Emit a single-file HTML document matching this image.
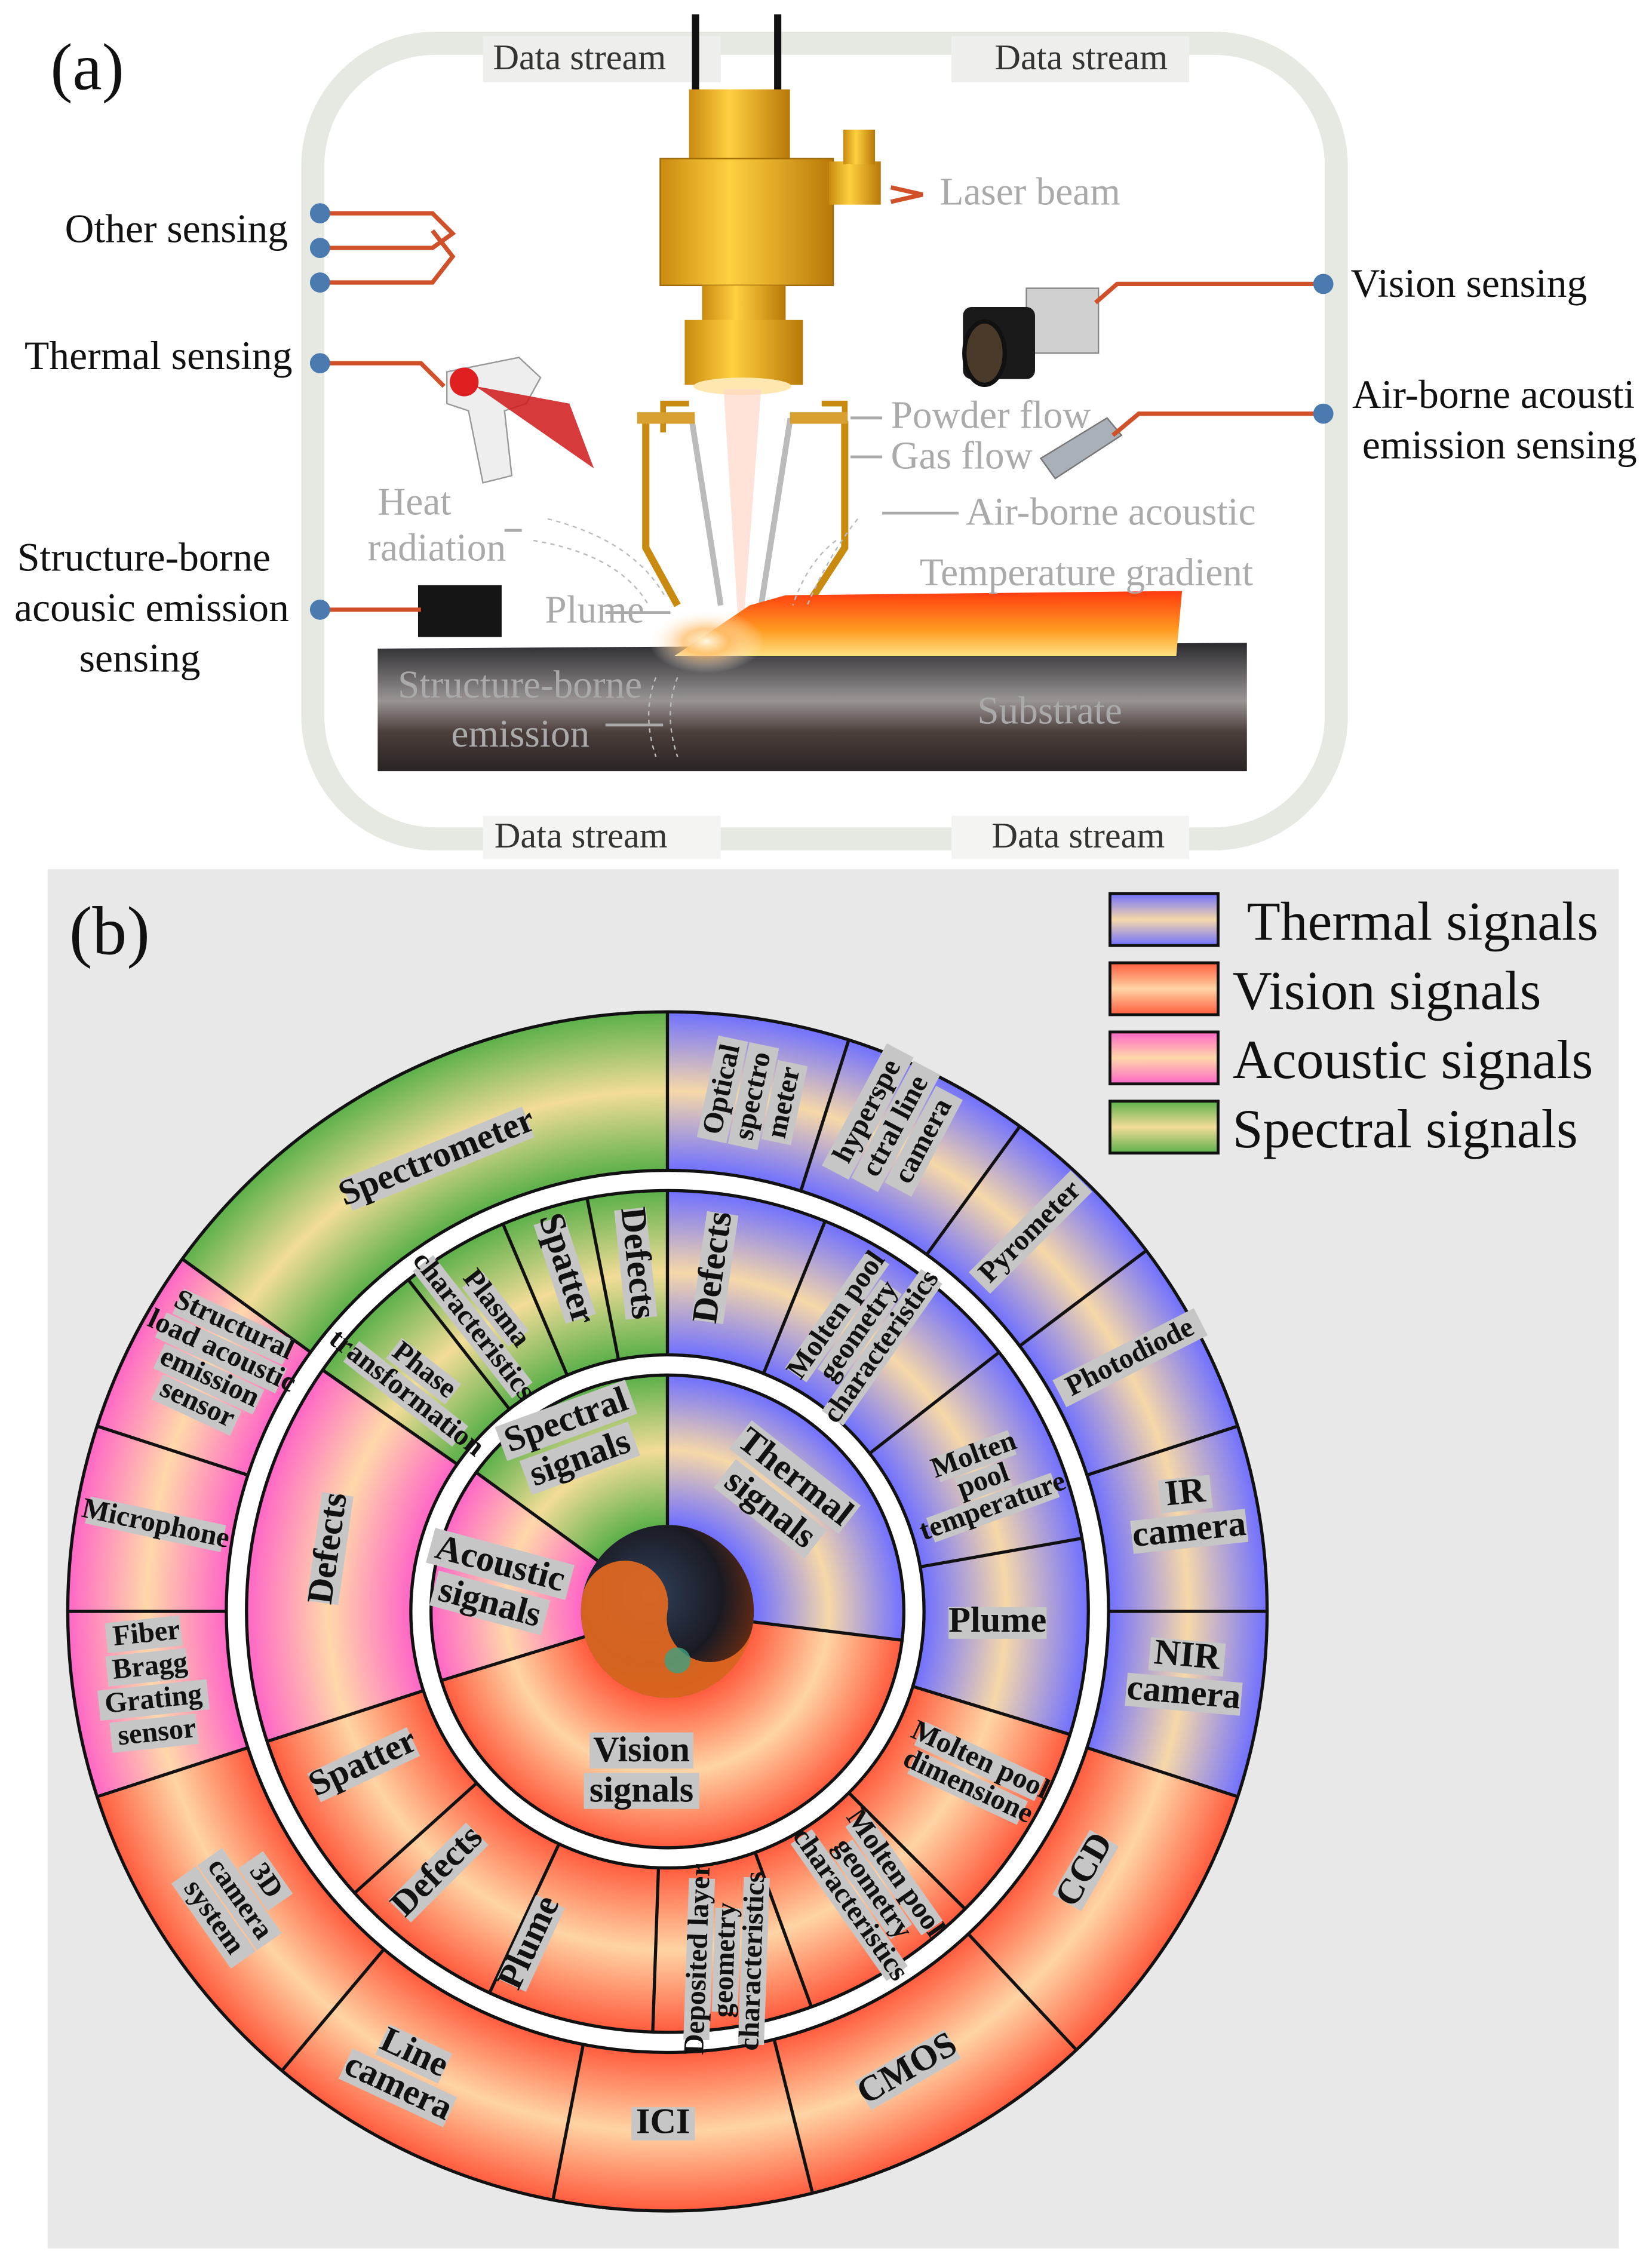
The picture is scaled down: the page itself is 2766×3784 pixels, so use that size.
<!DOCTYPE html>
<html><head><meta charset="utf-8"><style>
html,body{margin:0;padding:0;background:#fff}
svg{display:block}
.a{font-family:"Liberation Serif",serif;font-size:28px;fill:#111}
.g{font-family:"Liberation Serif",serif;font-size:27px;fill:#aaa}
.d{font-family:"Liberation Serif",serif;font-size:25px;fill:#333}
.l{font-family:"Liberation Serif",serif;font-weight:bold;font-size:20px;fill:#111;text-anchor:middle}
.m{font-family:"Liberation Serif",serif;font-weight:bold;font-size:25px;fill:#111;text-anchor:middle}
.lg{font-family:"Liberation Serif",serif;font-size:38px;fill:#111}
.b rect{fill:#c6c6c6}
</style></head><body>
<svg width="2766" height="3784" viewBox="0 0 1146 1568" preserveAspectRatio="none" xmlns="http://www.w3.org/2000/svg">
<defs>
<radialGradient id="gt" gradientUnits="userSpaceOnUse" cx="463" cy="1118" r="416">
<stop offset="0.144" stop-color="#7070ff"/><stop offset="0.269" stop-color="#f6d8a8"/><stop offset="0.394" stop-color="#7070ff"/>
<stop offset="0.428" stop-color="#7070ff"/><stop offset="0.565" stop-color="#f6d8a8"/><stop offset="0.702" stop-color="#7070ff"/>
<stop offset="0.7356" stop-color="#7070ff"/><stop offset="0.868" stop-color="#f6d8a8"/><stop offset="1" stop-color="#7070ff"/></radialGradient>
<radialGradient id="gv" gradientUnits="userSpaceOnUse" cx="463" cy="1118" r="416">
<stop offset="0.144" stop-color="#ff5c3e"/><stop offset="0.269" stop-color="#ffd4a4"/><stop offset="0.394" stop-color="#ff5c3e"/>
<stop offset="0.428" stop-color="#ff5c3e"/><stop offset="0.565" stop-color="#ffd4a4"/><stop offset="0.702" stop-color="#ff5c3e"/>
<stop offset="0.7356" stop-color="#ff5c3e"/><stop offset="0.868" stop-color="#ffd4a4"/><stop offset="1" stop-color="#ff5c3e"/></radialGradient>
<radialGradient id="ga" gradientUnits="userSpaceOnUse" cx="463" cy="1118" r="416">
<stop offset="0.144" stop-color="#ff66c6"/><stop offset="0.269" stop-color="#ffd8aa"/><stop offset="0.394" stop-color="#ff66c6"/>
<stop offset="0.428" stop-color="#ff66c6"/><stop offset="0.565" stop-color="#ffd8aa"/><stop offset="0.702" stop-color="#ff66c6"/>
<stop offset="0.7356" stop-color="#ff66c6"/><stop offset="0.868" stop-color="#ffd8aa"/><stop offset="1" stop-color="#ff66c6"/></radialGradient>
<radialGradient id="gs" gradientUnits="userSpaceOnUse" cx="463" cy="1118" r="416">
<stop offset="0.144" stop-color="#5cb04a"/><stop offset="0.269" stop-color="#f2dc98"/><stop offset="0.394" stop-color="#5cb04a"/>
<stop offset="0.428" stop-color="#5cb04a"/><stop offset="0.565" stop-color="#f2dc98"/><stop offset="0.702" stop-color="#5cb04a"/>
<stop offset="0.7356" stop-color="#5cb04a"/><stop offset="0.868" stop-color="#f2dc98"/><stop offset="1" stop-color="#5cb04a"/></radialGradient>
<linearGradient id="lt" x1="0" y1="0" x2="0" y2="1"><stop offset="0" stop-color="#7070ff"/><stop offset="0.5" stop-color="#f6d8a8"/><stop offset="1" stop-color="#7070ff"/></linearGradient>
<linearGradient id="lv" x1="0" y1="0" x2="0" y2="1"><stop offset="0" stop-color="#ff5c3e"/><stop offset="0.5" stop-color="#ffd4a4"/><stop offset="1" stop-color="#ff5c3e"/></linearGradient>
<linearGradient id="la" x1="0" y1="0" x2="0" y2="1"><stop offset="0" stop-color="#ff66c6"/><stop offset="0.5" stop-color="#ffd8aa"/><stop offset="1" stop-color="#ff66c6"/></linearGradient>
<linearGradient id="ls" x1="0" y1="0" x2="0" y2="1"><stop offset="0" stop-color="#5cb04a"/><stop offset="0.5" stop-color="#f2dc98"/><stop offset="1" stop-color="#5cb04a"/></linearGradient>
<linearGradient id="sub" x1="0" y1="0" x2="0" y2="1"><stop offset="0" stop-color="#2a2a2e"/><stop offset="0.45" stop-color="#9a9494"/><stop offset="0.7" stop-color="#4a3e3a"/><stop offset="1" stop-color="#2a2424"/></linearGradient>
<linearGradient id="gold" x1="0" y1="0" x2="1" y2="0"><stop offset="0" stop-color="#c98a10"/><stop offset="0.4" stop-color="#ffd040"/><stop offset="1" stop-color="#b87808"/></linearGradient>
<linearGradient id="melt" x1="0" y1="0" x2="0" y2="1"><stop offset="0" stop-color="#ff3a10"/><stop offset="0.6" stop-color="#ff9a20"/><stop offset="1" stop-color="#ffe080"/></linearGradient>
<radialGradient id="glow" cx="0.5" cy="0.5" r="0.5"><stop offset="0" stop-color="#fff8e0"/><stop offset="0.4" stop-color="#ffc070" stop-opacity="0.8"/><stop offset="1" stop-color="#ffffff" stop-opacity="0"/></radialGradient>
<radialGradient id="yy" cx="0.4" cy="0.4" r="0.7"><stop offset="0" stop-color="#30405a"/><stop offset="0.6" stop-color="#1a1a22"/><stop offset="1" stop-color="#7a3010"/></radialGradient>
</defs>

<!-- ============ PART A ============ -->
<rect x="0" y="0" width="1146" height="595" fill="#fff"/>
<rect x="217" y="30" width="710" height="552" rx="85" fill="none" stroke="#e6e9e2" stroke-width="16"/>
<rect x="335" y="25" width="165" height="32" fill="#eeeeec"/>
<rect x="660" y="25" width="165" height="32" fill="#eeeeec"/>
<rect x="335" y="566" width="165" height="30" fill="#f4f4f2"/>
<rect x="660" y="566" width="165" height="30" fill="#f4f4f2"/>
<text class="d" x="342" y="48">Data stream</text>
<text class="d" x="690" y="48">Data stream</text>
<text class="d" x="343" y="588">Data stream</text>
<text class="d" x="688" y="588">Data stream</text>
<text x="35" y="62" font-family="Liberation Serif,serif" font-size="46" fill="#111">(a)</text>

<!-- laser head -->
<rect x="480" y="10" width="5" height="60" fill="#111"/><rect x="537" y="10" width="5" height="60" fill="#111"/>
<rect x="478" y="62" width="70" height="50" fill="url(#gold)"/>
<rect x="458" y="110" width="120" height="88" fill="url(#gold)" stroke="#a06a08"/>
<rect x="575" y="112" width="36" height="30" fill="url(#gold)"/>
<rect x="585" y="90" width="22" height="24" fill="url(#gold)"/>
<rect x="487" y="198" width="58" height="30" fill="url(#gold)"/>
<rect x="475" y="222" width="82" height="45" fill="url(#gold)"/>
<ellipse cx="515" cy="268" rx="34" ry="6" fill="#ffe8b0"/>
<polygon points="502,270 528,270 516,430 512,430" fill="#ffd6c8" opacity="0.7"/>
<path d="M460 300 L460 280 L478 280 M570 280 L586 280 L586 300" fill="none" stroke="#c98a10" stroke-width="4"/>
<polyline points="448,292 448,380 470,420" fill="none" stroke="#c98a10" stroke-width="5"/>
<polyline points="586,292 586,380 560,420" fill="none" stroke="#c98a10" stroke-width="5"/>
<polyline points="448,292 480,292 500,420" fill="none" stroke="#bbb" stroke-width="4"/>
<polyline points="580,292 548,292 528,420" fill="none" stroke="#bbb" stroke-width="4"/>
<rect x="442" y="286" width="40" height="8" fill="#d8a030"/><rect x="548" y="286" width="40" height="8" fill="#d8a030"/>
<!-- substrate & melt -->
<polygon points="262,450 865,446 865,535 262,535" fill="url(#sub)"/>
<polygon points="468,455 520,420 545,413 820,410 816,455" fill="url(#melt)"/>
<ellipse cx="490" cy="445" rx="40" ry="22" fill="url(#glow)"/>
<!-- camera -->
<rect x="712" y="200" width="50" height="45" fill="#d0d0d0" stroke="#888"/>
<rect x="668" y="213" width="50" height="50" rx="6" fill="#1a1a1a"/>
<ellipse cx="683" cy="245" rx="14" ry="22" fill="#4a3a2a" stroke="#111" stroke-width="3"/>
<!-- thermal gun -->
<path d="M310 258 L360 248 L375 262 L365 280 L350 285 L355 330 L335 335 L325 285 L310 280 Z" fill="#eee" stroke="#999"/>
<circle cx="322" cy="265" r="10" fill="#e02020"/>
<polygon points="330,268 412,325 395,280" fill="#d01818" opacity="0.85"/>
<!-- airborne mic -->
<polygon points="722,318 768,290 778,302 732,332" fill="#aab0b8" stroke="#777"/>
<!-- structure sensor -->
<rect x="290" y="406" width="58" height="36" fill="#151515"/>
<!-- connectors -->
<g stroke="#d0502a" stroke-width="3" fill="none">
<polyline points="222,148 300,148 314,162 300,172 222,172"/>
<polyline points="222,196 300,196 314,178 300,160"/>
<polyline points="222,252 292,252 308,268"/>
<polyline points="222,423 292,423"/>
<polyline points="918,197 775,197 760,210"/>
<polyline points="918,287 790,287 772,302"/>
<polyline points="618,130 640,135 618,140"/>
</g>
<g fill="#4a7ab0"><circle cx="222" cy="148" r="7"/><circle cx="222" cy="172" r="7"/><circle cx="222" cy="196" r="7"/><circle cx="222" cy="252" r="7"/><circle cx="222" cy="423" r="7"/><circle cx="918" cy="197" r="7"/><circle cx="918" cy="287" r="7"/></g>
<!-- dashed radiation -->
<g stroke="#bbb" stroke-dasharray="3 3" fill="none">
<path d="M370 375 Q430 385 450 420"/><path d="M380 360 Q440 375 462 415"/><path d="M580 375 Q560 390 550 420"/><path d="M595 360 Q575 385 560 420"/>
<path d="M455 470 Q445 495 455 525"/><path d="M470 470 Q460 495 470 525"/>
</g>
<text class="a" x="45" y="168">Other sensing</text>
<text class="a" x="17" y="256">Thermal sensing</text>
<text class="a" x="12" y="396">Structure-borne</text>
<text class="a" x="10" y="431">acousic emission</text>
<text class="a" x="55" y="466">sensing</text>
<text class="a" x="937" y="206">Vision sensing</text>
<text class="a" x="938" y="283">Air-borne acousti</text>
<text class="a" x="945" y="318">emission sensing</text>
<text class="g" x="652" y="142">Laser beam</text>
<text class="g" x="618" y="297">Powder flow</text>
<text class="g" x="618" y="325">Gas flow</text>
<text class="g" x="670" y="364">Air-borne acoustic</text>
<text class="g" x="638" y="406">Temperature gradient</text>
<text class="g" x="262" y="357">Heat</text>
<text class="g" x="255" y="389">radiation</text>
<text class="g" x="378" y="432">Plume</text>
<text class="g" x="276" y="484" fill="#ccc">Structure-borne</text>
<text class="g" x="313" y="518" fill="#ccc">emission</text>
<text class="g" x="678" y="502" fill="#888">Substrate</text>
<g stroke="#aaa" stroke-width="2"><line x1="590" y1="290" x2="612" y2="290"/><line x1="590" y1="317" x2="612" y2="317"/><line x1="612" y1="356" x2="665" y2="356"/><line x1="420" y1="425" x2="465" y2="425"/><line x1="420" y1="503" x2="460" y2="503"/><line x1="350" y1="368" x2="362" y2="368"/></g>

<!-- ============ PART B ============ -->
<rect x="33" y="603" width="1090" height="957" fill="#e8e8e8"/>
<text x="48" y="662" font-family="Liberation Serif,serif" font-size="48" fill="#111">(b)</text>
<!-- legend -->
<rect x="770" y="620" width="75" height="36" fill="url(#lt)" stroke="#111" stroke-width="2"/>
<rect x="770" y="668" width="75" height="36" fill="url(#lv)" stroke="#111" stroke-width="2"/>
<rect x="770" y="716" width="75" height="36" fill="url(#la)" stroke="#111" stroke-width="2"/>
<rect x="770" y="764" width="75" height="36" fill="url(#ls)" stroke="#111" stroke-width="2"/>
<text class="lg" x="865" y="652">Thermal signals</text>
<text class="lg" x="855" y="700">Vision signals</text>
<text class="lg" x="855" y="748">Acoustic signals</text>
<text class="lg" x="855" y="796">Spectral signals</text>

<!-- rings -->
<g fill="none">
<circle cx="463" cy="1118" r="361" stroke-width="110" pathLength="360" stroke="url(#gt)" stroke-dasharray="108 360" transform="rotate(-90 463 1118)"/>
<circle cx="463" cy="1118" r="361" stroke-width="110" pathLength="360" stroke="url(#gv)" stroke-dasharray="144 360" transform="rotate(18 463 1118)"/>
<circle cx="463" cy="1118" r="361" stroke-width="110" pathLength="360" stroke="url(#ga)" stroke-dasharray="54 360" transform="rotate(162 463 1118)"/>
<circle cx="463" cy="1118" r="361" stroke-width="110" pathLength="360" stroke="url(#gs)" stroke-dasharray="54.2 360" transform="rotate(216 463 1118)"/>
<circle cx="463" cy="1118" r="235" stroke-width="114" pathLength="360" stroke="url(#gt)" stroke-dasharray="107 360" transform="rotate(-90 463 1118)"/>
<circle cx="463" cy="1118" r="235" stroke-width="114" pathLength="360" stroke="url(#gv)" stroke-dasharray="145 360" transform="rotate(17 463 1118)"/>
<circle cx="463" cy="1118" r="235" stroke-width="114" pathLength="360" stroke="url(#ga)" stroke-dasharray="53 360" transform="rotate(162 463 1118)"/>
<circle cx="463" cy="1118" r="235" stroke-width="114" pathLength="360" stroke="url(#gs)" stroke-dasharray="55.2 360" transform="rotate(215 463 1118)"/>
<circle cx="463" cy="1118" r="112" stroke-width="104" pathLength="360" stroke="url(#gt)" stroke-dasharray="97 360" transform="rotate(-90 463 1118)"/>
<circle cx="463" cy="1118" r="112" stroke-width="104" pathLength="360" stroke="url(#gv)" stroke-dasharray="156 360" transform="rotate(7 463 1118)"/>
<circle cx="463" cy="1118" r="112" stroke-width="104" pathLength="360" stroke="url(#ga)" stroke-dasharray="53 360" transform="rotate(163 463 1118)"/>
<circle cx="463" cy="1118" r="112" stroke-width="104" pathLength="360" stroke="url(#gs)" stroke-dasharray="54.2 360" transform="rotate(216 463 1118)"/>
<circle cx="463" cy="1118" r="299" stroke="#fff" stroke-width="14"/>
<circle cx="463" cy="1118" r="171" stroke="#fff" stroke-width="14"/>
</g>
<g fill="none" stroke="#111" stroke-width="2.2">
<circle cx="463" cy="1118" r="416"/><circle cx="463" cy="1118" r="306"/><circle cx="463" cy="1118" r="292"/><circle cx="463" cy="1118" r="178"/><circle cx="463" cy="1118" r="164"/>
</g>
<g stroke="#111" stroke-width="2.2">
<line x1="463" y1="1058" x2="463" y2="954"/>
<line x1="463" y1="1058" x2="463" y2="954" transform="rotate(97 463 1118)"/>
<line x1="463" y1="1058" x2="463" y2="954" transform="rotate(253 463 1118)"/>
<line x1="463" y1="1058" x2="463" y2="954" transform="rotate(306 463 1118)"/>
<line x1="463" y1="940" x2="463" y2="826"/>
<line x1="463" y1="940" x2="463" y2="826" transform="rotate(22 463 1118)"/>
<line x1="463" y1="940" x2="463" y2="826" transform="rotate(52 463 1118)"/>
<line x1="463" y1="940" x2="463" y2="826" transform="rotate(80 463 1118)"/>
<line x1="463" y1="940" x2="463" y2="826" transform="rotate(107 463 1118)"/>
<line x1="463" y1="940" x2="463" y2="826" transform="rotate(135 463 1118)"/>
<line x1="463" y1="940" x2="463" y2="826" transform="rotate(160 463 1118)"/>
<line x1="463" y1="940" x2="463" y2="826" transform="rotate(182 463 1118)"/>
<line x1="463" y1="940" x2="463" y2="826" transform="rotate(205 463 1118)"/>
<line x1="463" y1="940" x2="463" y2="826" transform="rotate(228 463 1118)"/>
<line x1="463" y1="940" x2="463" y2="826" transform="rotate(252 463 1118)"/>
<line x1="463" y1="940" x2="463" y2="826" transform="rotate(305 463 1118)"/>
<line x1="463" y1="940" x2="463" y2="826" transform="rotate(322 463 1118)"/>
<line x1="463" y1="940" x2="463" y2="826" transform="rotate(337 463 1118)"/>
<line x1="463" y1="940" x2="463" y2="826" transform="rotate(349 463 1118)"/>
<line x1="463" y1="812" x2="463" y2="702"/>
<line x1="463" y1="812" x2="463" y2="702" transform="rotate(17.6 463 1118)"/>
<line x1="463" y1="812" x2="463" y2="702" transform="rotate(36 463 1118)"/>
<line x1="463" y1="812" x2="463" y2="702" transform="rotate(53 463 1118)"/>
<line x1="463" y1="812" x2="463" y2="702" transform="rotate(72 463 1118)"/>
<line x1="463" y1="812" x2="463" y2="702" transform="rotate(90 463 1118)"/>
<line x1="463" y1="812" x2="463" y2="702" transform="rotate(108 463 1118)"/>
<line x1="463" y1="812" x2="463" y2="702" transform="rotate(137 463 1118)"/>
<line x1="463" y1="812" x2="463" y2="702" transform="rotate(166 463 1118)"/>
<line x1="463" y1="812" x2="463" y2="702" transform="rotate(191 463 1118)"/>
<line x1="463" y1="812" x2="463" y2="702" transform="rotate(220 463 1118)"/>
<line x1="463" y1="812" x2="463" y2="702" transform="rotate(252 463 1118)"/>
<line x1="463" y1="812" x2="463" y2="702" transform="rotate(270 463 1118)"/>
<line x1="463" y1="812" x2="463" y2="702" transform="rotate(288 463 1118)"/>
<line x1="463" y1="812" x2="463" y2="702" transform="rotate(306 463 1118)"/>
</g>
<!-- center -->
<circle cx="463" cy="1118" r="60" fill="url(#yy)"/>
<path d="M463 1058 A60 60 0 0 0 463 1178 A30 30 0 0 1 463 1118 A30 30 0 0 0 463 1058 Z" fill="#e86a20" opacity="0.9" transform="rotate(-80 463 1118)"/>
<circle cx="470" cy="1152" r="9" fill="#40a080" opacity="0.8"/>

<!-- labels outer ring -->
<g class="b" transform="translate(530 762) rotate(-78)">
<rect x="-36" y="-40" width="72" height="21"/><rect x="-36" y="-18" width="72" height="21"/><rect x="-28" y="4" width="56" height="21"/>
<text class="l" y="-24">Optical</text><text class="l" y="-2">spectro</text><text class="l" y="20">meter</text></g>
<g class="b" transform="translate(628 785) rotate(-62)">
<rect x="-48" y="-40" width="96" height="21"/><rect x="-46" y="-18" width="92" height="21"/><rect x="-38" y="4" width="76" height="21"/>
<text class="l" y="-24">hyperspe</text><text class="l" y="-2">ctral line</text><text class="l" y="20">camera</text></g>
<g class="b" transform="translate(718 858) rotate(-45)"><rect x="-50" y="-15" width="100" height="21"/><text class="l" y="1">Pyrometer</text></g>
<g class="b" transform="translate(786 946) rotate(-27)"><rect x="-55" y="-15" width="110" height="21"/><text class="l" y="1">Photodiode</text></g>
<g class="b" transform="translate(824 1053) rotate(-6)">
<rect x="-18" y="-28" width="36" height="23"/><rect x="-40" y="-2" width="80" height="23"/>
<text class="m" font-size="22" y="-10">IR</text><text class="m" font-size="22" y="16">camera</text></g>
<g class="b" transform="translate(822 1166) rotate(5)">
<rect x="-26" y="-28" width="52" height="23"/><rect x="-40" y="-2" width="80" height="23"/>
<text class="m" font-size="22" y="-10">NIR</text><text class="m" font-size="22" y="16">camera</text></g>
<g class="b" transform="translate(757 1300) rotate(-60)"><rect x="-26" y="-16" width="52" height="23"/><text class="m" font-size="22" y="2">CCD</text></g>
<g class="b" transform="translate(632 1440) rotate(-30)"><rect x="-36" y="-16" width="72" height="23"/><text class="m" font-size="22" y="2">CMOS</text></g>
<g class="b" transform="translate(460 1478)"><rect x="-22" y="-16" width="44" height="23"/><text class="m" font-size="22" y="2">ICI</text></g>
<g class="b" transform="translate(280 1440) rotate(25)">
<rect x="-24" y="-28" width="48" height="23"/><rect x="-40" y="-2" width="80" height="23"/>
<text class="m" font-size="22" y="-10">Line</text><text class="m" font-size="22" y="16">camera</text></g>
<g class="b" transform="translate(160 1322) rotate(55)">
<rect x="-18" y="-40" width="36" height="21"/><rect x="-36" y="-18" width="72" height="21"/><rect x="-36" y="4" width="72" height="21"/>
<text class="l" y="-24">3D</text><text class="l" y="-2">camera</text><text class="l" y="20">system</text></g>
<g class="b" transform="translate(106 1175) rotate(-6)">
<rect x="-28" y="-52" width="52" height="21"/><rect x="-30" y="-29" width="56" height="21"/><rect x="-38" y="-6" width="76" height="21"/><rect x="-32" y="17" width="60" height="21"/>
<text class="l" y="-36">Fiber</text><text class="l" y="-13">Bragg</text><text class="l" y="10">Grating</text><text class="l" y="33">sensor</text></g>
<g class="b" transform="translate(107 1062) rotate(12)"><rect x="-48" y="-14" width="96" height="19"/><text class="l" font-size="18" y="1">Microphone</text></g>
<g class="b" transform="translate(148 950) rotate(25)">
<rect x="-42" y="-42" width="84" height="19"/><rect x="-46" y="-22" width="92" height="19"/><rect x="-38" y="-2" width="76" height="19"/><rect x="-30" y="18" width="60" height="19"/>
<text class="l" font-size="17" y="-28">Structural</text><text class="l" font-size="17" y="-8">load acoustic</text><text class="l" font-size="17" y="12">emission</text><text class="l" font-size="17" y="32">sensor</text></g>
<g class="b" transform="translate(305 808) rotate(-22)"><rect x="-68" y="-16" width="136" height="23"/><text class="m" font-size="22" y="2">Spectrometer</text></g>

<!-- labels middle ring -->
<g class="b" transform="translate(500 880) rotate(-82)"><rect x="-38" y="-15" width="76" height="22"/><text class="m" font-size="22" y="2">Defects</text></g>
<g class="b" transform="translate(598 925) rotate(-55)">
<rect x="-50" y="-30" width="100" height="18"/><rect x="-38" y="-11" width="76" height="18"/><rect x="-60" y="8" width="120" height="18"/>
<text class="l" font-size="16" y="-16">Molten pool</text><text class="l" font-size="16" y="3">geometry</text><text class="l" font-size="16" y="22">characteristics</text></g>
<g class="b" transform="translate(683 1030) rotate(-20)">
<rect x="-28" y="-30" width="56" height="18"/><rect x="-18" y="-11" width="36" height="18"/><rect x="-46" y="8" width="92" height="18"/>
<text class="l" font-size="16" y="-16">Molten</text><text class="l" font-size="16" y="3">pool</text><text class="l" font-size="16" y="22">temperature</text></g>
<g class="b" transform="translate(692 1130)"><rect x="-34" y="-15" width="68" height="22"/><text class="m" font-size="21" y="2">Plume</text></g>
<g class="b" transform="translate(675 1232) rotate(25)">
<rect x="-46" y="-20" width="92" height="18"/><rect x="-42" y="0" width="84" height="18"/>
<text class="l" font-size="16" y="-6">Molten pool</text><text class="l" font-size="16" y="14">dimensione</text></g>
<g class="b" transform="translate(603 1312) rotate(55)">
<rect x="-46" y="-30" width="92" height="18"/><rect x="-36" y="-11" width="72" height="18"/><rect x="-58" y="8" width="116" height="18"/>
<text class="l" font-size="16" y="-16">Molten pool</text><text class="l" font-size="16" y="3">geometry</text><text class="l" font-size="16" y="22">characteristics</text></g>
<g class="b" transform="translate(506 1360) rotate(-88)">
<rect x="-56" y="-30" width="112" height="18"/><rect x="-36" y="-11" width="72" height="18"/><rect x="-58" y="8" width="116" height="18"/>
<text class="l" font-size="16" y="-16">Deposited layer</text><text class="l" font-size="16" y="3">geometry</text><text class="l" font-size="16" y="22">characteristics</text></g>
<g class="b" transform="translate(372 1350) rotate(-65)"><rect x="-32" y="-15" width="64" height="22"/><text class="m" font-size="21" y="2">Plume</text></g>
<g class="b" transform="translate(307 1302) rotate(-45)"><rect x="-38" y="-15" width="76" height="22"/><text class="m" font-size="21" y="2">Defects</text></g>
<g class="b" transform="translate(254 1228) rotate(-25)"><rect x="-38" y="-15" width="76" height="22"/><text class="m" font-size="21" y="2">Spatter</text></g>
<g class="b" transform="translate(233 1075) rotate(-82)"><rect x="-38" y="-15" width="76" height="22"/><text class="m" font-size="21" y="2">Defects</text></g>
<g class="b" transform="translate(287 960) rotate(38)">
<rect x="-26" y="-20" width="52" height="18"/><rect x="-48" y="0" width="96" height="18"/>
<text class="l" font-size="16" y="-6">Phase</text><text class="l" font-size="16" y="14">transformation</text></g>
<g class="b" transform="translate(335 915) rotate(52)">
<rect x="-26" y="-20" width="52" height="18"/><rect x="-56" y="0" width="112" height="18"/>
<text class="l" font-size="16" y="-6">Plasma</text><text class="l" font-size="16" y="14">characteristics</text></g>
<g class="b" transform="translate(388 882) rotate(72)"><rect x="-36" y="-15" width="72" height="22"/><text class="m" font-size="21" y="2">Spatter</text></g>
<g class="b" transform="translate(437 877) rotate(84)"><rect x="-38" y="-15" width="76" height="22"/><text class="m" font-size="21" y="2">Defects</text></g>

<!-- labels inner ring -->
<g class="b" transform="translate(542 1037) rotate(38)">
<rect x="-48" y="-28" width="96" height="25"/><rect x="-40" y="0" width="80" height="25"/>
<text class="m" y="-8">Thermal</text><text class="m" y="20">signals</text></g>
<g class="b" transform="translate(445 1230)">
<rect x="-36" y="-28" width="72" height="25"/><rect x="-40" y="0" width="80" height="25"/>
<text class="m" y="-8">Vision</text><text class="m" y="20">signals</text></g>
<g class="b" transform="translate(343 1100) rotate(15)">
<rect x="-50" y="-28" width="100" height="25"/><rect x="-40" y="0" width="80" height="25"/>
<text class="m" y="-8">Acoustic</text><text class="m" y="20">signals</text></g>
<g class="b" transform="translate(398 1000) rotate(-20)">
<rect x="-48" y="-28" width="96" height="25"/><rect x="-40" y="0" width="80" height="25"/>
<text class="m" y="-8">Spectral</text><text class="m" y="20">signals</text></g>
</svg>
</body></html>
